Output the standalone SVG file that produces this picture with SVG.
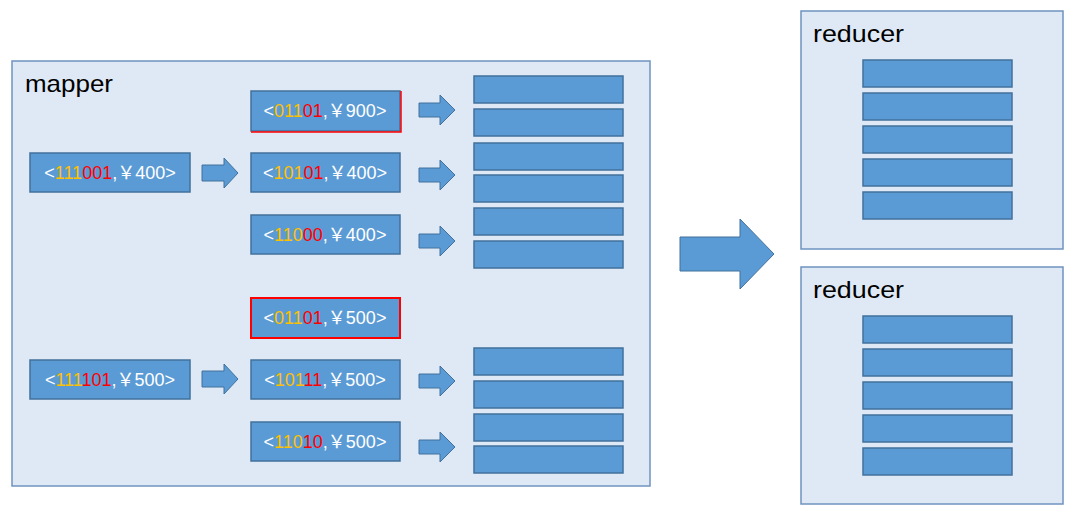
<svg xmlns="http://www.w3.org/2000/svg" xmlns:xlink="http://www.w3.org/1999/xlink" width="1080" height="510" viewBox="0 0 1080 510">
<style>
.panel{fill:#dfe9f5;stroke:#6f93bf;stroke-width:1.5}
.blk{fill:#5b9bd5;stroke:#41719c;stroke-width:1.5}
.arr{fill:#5b9bd5;stroke:#41719c;stroke-width:1}
.title{font-family:"Liberation Sans",Arial,sans-serif;font-size:24px;fill:#000}
.kv{font-family:"Liberation Sans","Noto Sans CJK SC",sans-serif;font-size:18px;fill:#fff}
.o{fill:#ffc000}
.r{fill:#ff0000}
</style>
<defs>
<path id="sa" d="M0,-7 H21 V-15 L36,0 L21,15 V7 H0 Z"/>
<path id="la" d="M0,-8 H22 V-15 L36,0 L22,15 V8 H0 Z"/>
</defs>
<rect width="1080" height="510" fill="#fff"/>

<g id="mapper">
<rect class="panel" x="12" y="61" width="638" height="425"/>
<text class="title" x="25" y="92" textLength="88" lengthAdjust="spacingAndGlyphs">mapper</text>
</g>

<g id="reducer1">
<rect class="panel" x="801" y="11" width="262" height="238"/>
<text class="title" x="813" y="42" textLength="91" lengthAdjust="spacingAndGlyphs">reducer</text>
<rect class="blk" x="863" y="60" width="149" height="27"/>
<rect class="blk" x="863" y="93" width="149" height="27"/>
<rect class="blk" x="863" y="126" width="149" height="27"/>
<rect class="blk" x="863" y="159" width="149" height="27"/>
<rect class="blk" x="863" y="192" width="149" height="27"/>
</g>

<g id="reducer2">
<rect class="panel" x="801" y="267" width="262" height="237"/>
<text class="title" x="813" y="298" textLength="91" lengthAdjust="spacingAndGlyphs">reducer</text>
<rect class="blk" x="863" y="316" width="149" height="27"/>
<rect class="blk" x="863" y="349" width="149" height="27"/>
<rect class="blk" x="863" y="382" width="149" height="27"/>
<rect class="blk" x="863" y="415" width="149" height="27"/>
<rect class="blk" x="863" y="448" width="149" height="27"/>
</g>

<g id="in1">
<rect class="blk" x="30" y="153" width="160" height="39"/>
<text class="kv" x="110" y="178.5" text-anchor="middle">&lt;<tspan class="o">111</tspan><tspan class="r">001</tspan>,￥400&gt;</text>
</g>
<g id="in2">
<rect class="blk" x="30" y="360" width="160" height="39"/>
<text class="kv" x="110" y="385.5" text-anchor="middle">&lt;<tspan class="o">111</tspan><tspan class="r">101</tspan>,￥500&gt;</text>
</g>

<g id="kv1">
<rect class="blk" x="251" y="91" width="149" height="40"/>
<polyline points="401,91 401,132 251,132" fill="none" stroke="#ff0000" stroke-width="1.5"/>
<text class="kv" x="325" y="117" text-anchor="middle">&lt;<tspan class="o">011</tspan><tspan class="r">01</tspan>,￥900&gt;</text>
</g>
<g id="kv2">
<rect class="blk" x="251" y="153" width="149" height="39"/>
<text class="kv" x="325" y="178.5" text-anchor="middle">&lt;<tspan class="o">101</tspan><tspan class="r">01</tspan>,￥400&gt;</text>
</g>
<g id="kv3">
<rect class="blk" x="251" y="215" width="149" height="39"/>
<text class="kv" x="325" y="240.5" text-anchor="middle">&lt;<tspan class="o">110</tspan><tspan class="r">00</tspan>,￥400&gt;</text>
</g>
<g id="kv4">
<rect x="251" y="298" width="149" height="40" fill="#5b9bd5" stroke="#ff0000" stroke-width="2"/>
<text class="kv" x="325" y="324" text-anchor="middle">&lt;<tspan class="o">011</tspan><tspan class="r">01</tspan>,￥500&gt;</text>
</g>
<g id="kv5">
<rect class="blk" x="251" y="360" width="149" height="39"/>
<text class="kv" x="325" y="385.5" text-anchor="middle">&lt;<tspan class="o">101</tspan><tspan class="r">11</tspan>,￥500&gt;</text>
</g>
<g id="kv6">
<rect class="blk" x="251" y="422" width="149" height="39"/>
<text class="kv" x="325" y="447.5" text-anchor="middle">&lt;<tspan class="o">110</tspan><tspan class="r">10</tspan>,￥500&gt;</text>
</g>

<g id="stack1">
<rect class="blk" x="474" y="76" width="149" height="27"/>
<rect class="blk" x="474" y="109" width="149" height="27"/>
<rect class="blk" x="474" y="143" width="149" height="27"/>
<rect class="blk" x="474" y="175" width="149" height="27"/>
<rect class="blk" x="474" y="208" width="149" height="27"/>
<rect class="blk" x="474" y="241" width="149" height="27"/>
</g>
<g id="stack2">
<rect class="blk" x="474" y="348" width="149" height="27"/>
<rect class="blk" x="474" y="381" width="149" height="27"/>
<rect class="blk" x="474" y="414" width="149" height="27"/>
<rect class="blk" x="474" y="446" width="149" height="27"/>
</g>

<g id="connectors">
<use xlink:href="#la" class="arr" x="202" y="173"/>
<use xlink:href="#la" class="arr" x="202" y="379"/>
<use xlink:href="#sa" class="arr" x="419" y="110"/>
<use xlink:href="#sa" class="arr" x="419" y="175"/>
<use xlink:href="#sa" class="arr" x="419" y="241"/>
<use xlink:href="#sa" class="arr" x="419" y="381"/>
<use xlink:href="#sa" class="arr" x="419" y="447"/>
<path class="arr" d="M680,237 H740 V219 L774,254 L740,289 V271 H680 Z"/>
</g>
</svg>
